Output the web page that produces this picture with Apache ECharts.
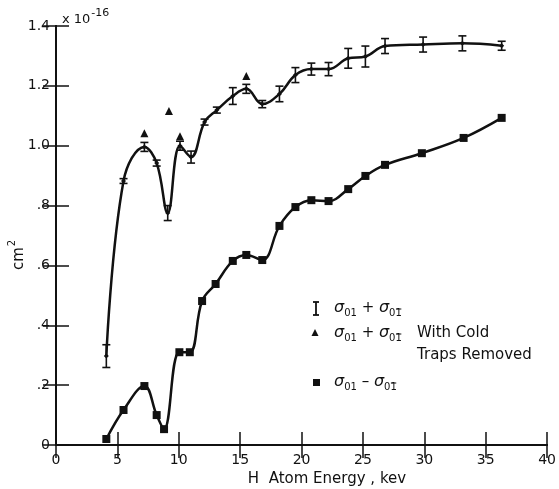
<!DOCTYPE html>
<html>
<head>
<meta charset="utf-8">
<script src="https://cdn.jsdelivr.net/npm/echarts@6/dist/echarts.min.js"></script>
<style>
	html, body { margin: 0; padding: 0; background: #fff; }
	#chart { width: 559px; height: 489px; }
</style>
</head>
<body>
<div id="chart"></div>
<script>
	// sigma01 + sigma01bar (with error bars)
	var sumEnergy = [4.1, 5.5, 7.2, 8.2, 9.1, 10.1, 11.0, 12.1, 13.1, 14.4, 15.5, 16.8, 18.2, 19.5, 20.8, 22.2, 23.8, 25.2, 26.8, 29.9, 33.1, 36.3];
	var sumValue = [0.297, 0.882, 0.996, 0.942, 0.775, 1.0, 0.962, 1.079, 1.119, 1.166, 1.19, 1.139, 1.173, 1.236, 1.256, 1.256, 1.292, 1.298, 1.333, 1.338, 1.342, 1.334];
	var sumErr = [0.038, 0.008, 0.015, 0.01, 0.025, 0.015, 0.02, 0.01, 0.01, 0.028, 0.015, 0.012, 0.026, 0.025, 0.02, 0.022, 0.033, 0.035, 0.025, 0.025, 0.025, 0.015];
	// with cold traps removed
	var coldEnergy = [7.2, 9.2, 10.1, 15.5];
	var coldValue = [1.042, 1.116, 1.032, 1.233];
	// sigma01 - sigma01bar
	var diffEnergy = [4.1, 5.5, 7.2, 8.2, 8.8, 10.05, 10.9, 11.9, 13.0, 14.4, 15.5, 16.8, 18.2, 19.5, 20.8, 22.2, 23.8, 25.2, 26.8, 29.8, 33.2, 36.3];
	var diffValue = [0.02, 0.117, 0.197, 0.1, 0.053, 0.31, 0.31, 0.481, 0.538, 0.615, 0.635, 0.618, 0.732, 0.795, 0.818, 0.815, 0.855, 0.899, 0.936, 0.975, 1.026, 1.093];

	var xTickLabels = ['0', '5', '10', '15', '20', '25', '30', '35', '40'];
	var yTickLabels = ['0', '.2', '.4', '.6', '.8', '1.0', '1.2', '1.4'];

	var FONT = 'DejaVu Sans';
	var ink = '#111';

	var myChart = echarts.init(document.getElementById('chart'));

	var frameAxis = {
		axisLine: { show: true, lineStyle: { color: ink, width: 2 } },
		axisTick: { show: true, inside: true, length: 13, lineStyle: { color: ink, width: 1.5 } },
		splitLine: { show: false }
	};

	var subRich = {
		s: { fontFamily: FONT, fontStyle: 'italic', fontSize: 16, fill: ink },
		sub: { fontFamily: FONT, fontSize: 10, padding: [10, 0, 0, 0], fill: ink },
		t: { fontFamily: FONT, fontSize: 15, fill: ink }
	};

	// measure text so the bar over the last subscript "1" can be placed
	var mctx = document.createElement('canvas').getContext('2d');
	function textW(str, font) {
		mctx.font = font;
		return mctx.measureText(str).width;
	}

	function sigmaLine(op, x, y) {
		var sW = textW('σ', 'italic 16px "' + FONT + '"');
		var subW0 = textW('0', '10px "' + FONT + '"');
		var subW01 = textW('01', '10px "' + FONT + '"');
		var opW = textW(' ' + op + ' ', '15px "' + FONT + '"');
		var w1 = textW('1', '10px "' + FONT + '"');
		var bx = x + sW + subW01 + opW + sW + subW0;
		return [
			{
				type: 'text', x: x, y: y,
				style: { text: '{s|σ}{sub|01}{t| ' + op + ' }{s|σ}{sub|01}', verticalAlign: 'middle', rich: subRich }
			},
			{
				type: 'line',
				shape: { x1: bx + 0.5, y1: y + 1, x2: bx + w1 - 0.5, y2: y + 1 },
				style: { stroke: ink, lineWidth: 1 }
			}
		];
	}

	var option = {
		backgroundColor: '#fff',
		animation: false,
		grid: { left: 56, right: 10, top: 26, bottom: 44 },
		xAxis: [
			Object.assign({
				type: 'value', min: 0, max: 40, interval: 5,
				axisLabel: {
					color: ink, fontFamily: FONT, fontSize: 14, margin: 8,
					formatter: function(v, i) { return xTickLabels[i]; }
				}
			}, frameAxis),
			Object.assign({
				type: 'value', min: 0, max: 40, interval: 5, position: 'top',
				axisLabel: { show: false }
			}, frameAxis)
		],
		yAxis: [
			Object.assign({
				type: 'value', min: 0, max: 1.4, interval: 0.2,
				axisLabel: {
					color: ink, fontFamily: FONT, fontSize: 14, margin: 6,
					formatter: function(v, i) { return yTickLabels[i]; }
				}
			}, frameAxis),
			Object.assign({
				type: 'value', min: 0, max: 1.4, interval: 0.2, position: 'right',
				axisLabel: { show: false }
			}, frameAxis)
		],
		series: [
			{
				type: 'line',
				data: sumEnergy.map(function(e, i) { return [e, sumValue[i]]; }),
				smooth: 0.4,
				symbol: 'diamond',
				symbolSize: 5,
				itemStyle: { color: ink },
				lineStyle: { color: ink, width: 2.5 }
			},
			{
				type: 'custom',
				data: sumEnergy.map(function(e, i) { return [e, sumValue[i] - sumErr[i], sumValue[i] + sumErr[i]]; }),
				renderItem: function(params, api) {
					var lo = api.coord([api.value(0), api.value(1)]);
					var hi = api.coord([api.value(0), api.value(2)]);
					var w = 4;
					var st = { stroke: ink, lineWidth: 1.6 };
					return {
						type: 'group',
						children: [
							{ type: 'line', shape: { x1: lo[0], y1: lo[1], x2: hi[0], y2: hi[1] }, style: st },
							{ type: 'line', shape: { x1: lo[0] - w, y1: lo[1], x2: lo[0] + w, y2: lo[1] }, style: st },
							{ type: 'line', shape: { x1: hi[0] - w, y1: hi[1], x2: hi[0] + w, y2: hi[1] }, style: st }
						]
					};
				},
				z: 3
			},
			{
				type: 'scatter',
				data: coldEnergy.map(function(e, i) { return [e, coldValue[i]]; }),
				symbol: 'triangle',
				symbolSize: [8, 8],
				itemStyle: { color: ink, opacity: 1 }
			},
			{
				type: 'line',
				data: diffEnergy.map(function(e, i) { return [e, diffValue[i]]; }),
				smooth: 0.4,
				symbol: 'rect',
				symbolSize: 8,
				itemStyle: { color: ink },
				lineStyle: { color: ink, width: 2.5 }
			}
		],
		graphic: [
			// x 10^-16
			{
				type: 'text', left: 62, top: 8,
				style: {
					text: '{a|x 10}{b|-16}',
					rich: {
						a: { fontFamily: FONT, fontSize: 13, fill: ink, padding: [6, 0, 0, 0] },
						b: { fontFamily: FONT, fontSize: 11, fill: ink, padding: [0, 0, 6, 1] }
					}
				}
			},
			// y axis name
			{
				type: 'text', x: 16, y: 255, rotation: Math.PI / 2,
				style: {
					text: '{a|cm}{b|2}',
					align: 'center', verticalAlign: 'middle',
					rich: {
						a: { fontFamily: FONT, fontSize: 15, fill: ink, padding: [6, 0, 0, 0] },
						b: { fontFamily: FONT, fontSize: 10, fill: ink, padding: [0, 0, 8, 1] }
					}
				}
			},
			// x axis name
			{
				type: 'text', x: 327, y: 479,
				style: {
					text: 'H  Atom Energy , kev',
					align: 'center', verticalAlign: 'middle',
					fontFamily: FONT, fontSize: 15, fill: ink
				}
			},
			// legend: error bar marker
			{ type: 'line', shape: { x1: 316, y1: 302, x2: 316, y2: 315 }, style: { stroke: ink, lineWidth: 1.8 } },
			{ type: 'line', shape: { x1: 313, y1: 302, x2: 319, y2: 302 }, style: { stroke: ink, lineWidth: 1.8 } },
			{ type: 'line', shape: { x1: 313, y1: 315, x2: 319, y2: 315 }, style: { stroke: ink, lineWidth: 1.8 } },
			// legend: triangle
			{ type: 'polygon', shape: { points: [[315, 329], [311.5, 336], [318.5, 336]] }, style: { fill: ink } },
			{
				type: 'text', x: 417, y: 333,
				style: { text: 'With Cold', verticalAlign: 'middle', fontFamily: FONT, fontSize: 15, fill: ink }
			},
			{
				type: 'text', x: 417, y: 355,
				style: { text: 'Traps Removed', verticalAlign: 'middle', fontFamily: FONT, fontSize: 15, fill: ink }
			},
			// legend: square
			{ type: 'rect', shape: { x: 313, y: 379, width: 7, height: 7 }, style: { fill: ink } }
		].concat(sigmaLine('+', 334, 308), sigmaLine('+', 334, 333), sigmaLine('\u2013', 334, 382))
	};

	myChart.setOption(option);
</script>
</body>
</html>
